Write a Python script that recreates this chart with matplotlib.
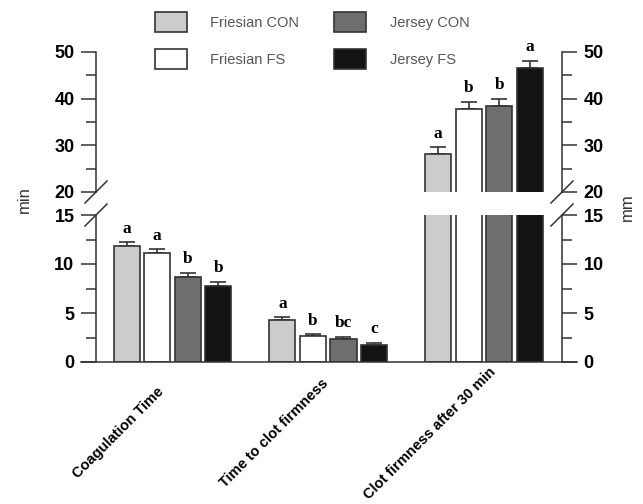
import numpy as np
import matplotlib
matplotlib.use("Agg")
import matplotlib.pyplot as plt
from matplotlib.patches import Patch
from matplotlib.transforms import ScaledTranslation

plt.rcParams['font.family'] = ['Liberation Sans', 'DejaVu Sans']
plt.rcParams['font.weight'] = 'bold'

# --- data
groups = ['Coagulation Time', 'Time to clot firmness', 'Clot firmness after 30 min']
series = ['Friesian CON', 'Friesian FS', 'Jersey CON', 'Jersey FS']
friesian_con = [11.8, 4.3, 28.1]
friesian_fs = [11.1, 2.7, 37.8]
jersey_con = [8.7, 2.3, 38.4]
jersey_fs = [7.8, 1.7, 46.6]
friesian_con_err = [0.4, 0.25, 1.5]
friesian_fs_err = [0.4, 0.15, 1.5]
jersey_con_err = [0.4, 0.25, 1.6]
jersey_fs_err = [0.4, 0.27, 1.5]
friesian_con_sig = ['a', 'a', 'a']
friesian_fs_sig = ['a', 'b', 'b']
jersey_con_sig = ['b', 'bc', 'b']
jersey_fs_sig = ['b', 'c', 'a']

values = [friesian_con, friesian_fs, jersey_con, jersey_fs]
errors = [friesian_con_err, friesian_fs_err, jersey_con_err, jersey_fs_err]
letters = [friesian_con_sig, friesian_fs_sig, jersey_con_sig, jersey_fs_sig]
colors = ['#cccccc', '#ffffff', '#6e6e6e', '#141414']
edge = '#333333'

W, H = 643, 504
fig = plt.figure(figsize=(W / 100, H / 100), dpi=100)
ax_hi = fig.add_axes([96 / W, 1 - 192 / H, 466 / W, 140 / H])
ax_lo = fig.add_axes([96 / W, 1 - 362 / H, 466 / W, 147 / H])

x = np.arange(len(groups))
step, width = 0.196, 0.167
offsets = (np.arange(4) - 1.5) * step

for ax in (ax_hi, ax_lo):
    for i in range(4):
        ax.bar(x + offsets[i], values[i], width, color=colors[i],
               edgecolor=edge, linewidth=1.2, zorder=2)
        ax.errorbar(x + offsets[i], values[i],
                    yerr=[np.zeros(3), errors[i]], fmt='none',
                    ecolor=edge, elinewidth=1.2, capsize=5.5, capthick=1.2, zorder=1)
    ax.set_xlim(-0.49, 2.5)
    ax.spines['top'].set_visible(False)
    ax.spines['bottom'].set_visible(False)
    for s in ('left', 'right'):
        ax.spines[s].set_linewidth(1.1)
        ax.spines[s].set_color(edge)
    ax.tick_params(axis='y', which='both', left=True, right=True,
                   labelleft=True, labelright=True, direction='out',
                   color=edge, width=1.1, labelsize=13, pad=5)
    ax.tick_params(axis='y', which='major', length=10.5)
    ax.tick_params(axis='y', which='minor', length=7)
    ax.set_xticks([])

ax_hi.set_ylim(20, 50)
ax_hi.set_yticks([20, 30, 40, 50])
ax_hi.set_yticks([25, 35, 45], minor=True)

ax_lo.set_ylim(0, 15)
ax_lo.set_yticks([0, 5, 10, 15])
ax_lo.set_yticks([2.5, 7.5, 12.5], minor=True)

# category labels: centred below each group, shifted left like the original
lab_tr = ax_lo.get_xaxis_transform() + ScaledTranslation(-0.54, -0.71, fig.dpi_scale_trans)
for g, name in enumerate(groups):
    ax_lo.text(x[g], 0, name, transform=lab_tr, rotation=45,
               ha='center', va='center', rotation_mode='anchor', fontsize=10.5)

# baseline running under both outer ticks
ax_lo.plot([-0.033, 1.033], [0, 0], transform=ax_lo.transAxes,
           color=edge, lw=1.1, clip_on=False)

# break marks
for ax, ypos in ((ax_hi, 0), (ax_lo, 1)):
    hpx = ax.get_position().height * H
    dx, dy = 11 / 466, 11 / hpx
    for xpos in (0, 1):
        ax.plot([xpos - dx, xpos + dx], [ypos - dy, ypos + dy],
                transform=ax.transAxes, color=edge, lw=1.1, clip_on=False)

# significance letters
for i in range(4):
    for g in range(3):
        top = values[i][g] + errors[i][g]
        ax = ax_lo if top <= 15 else ax_hi
        ax.annotate(letters[i][g], (x[g] + offsets[i], top), xytext=(0, 4),
                    textcoords='offset points', ha='center', va='bottom',
                    fontsize=12.5, fontweight='bold',
                    family=['Liberation Serif', 'DejaVu Serif'])

fig.text(24 / W, 1 - 200 / H, 'min', rotation=90, ha='center', va='center',
         fontsize=12, fontweight='normal', color='#333333')
fig.text(627 / W, 1 - 207 / H, 'mm', rotation=90, ha='center', va='center',
         fontsize=12, fontweight='normal', color='#333333')

handles = [Patch(facecolor=c, edgecolor=edge, linewidth=1.2) for c in colors]
fig.legend(handles, series, ncol=2, loc='upper left',
           bbox_to_anchor=(155 / W, 1 - 12 / H), frameon=False,
           borderpad=0, borderaxespad=0, handlelength=2.2, handleheight=1.7,
           handletextpad=1.6, labelspacing=1.2, columnspacing=2.4,
           prop={'size': 10.5, 'weight': 'normal'}, labelcolor='#555555')

fig.savefig('out.png', dpi=100)
